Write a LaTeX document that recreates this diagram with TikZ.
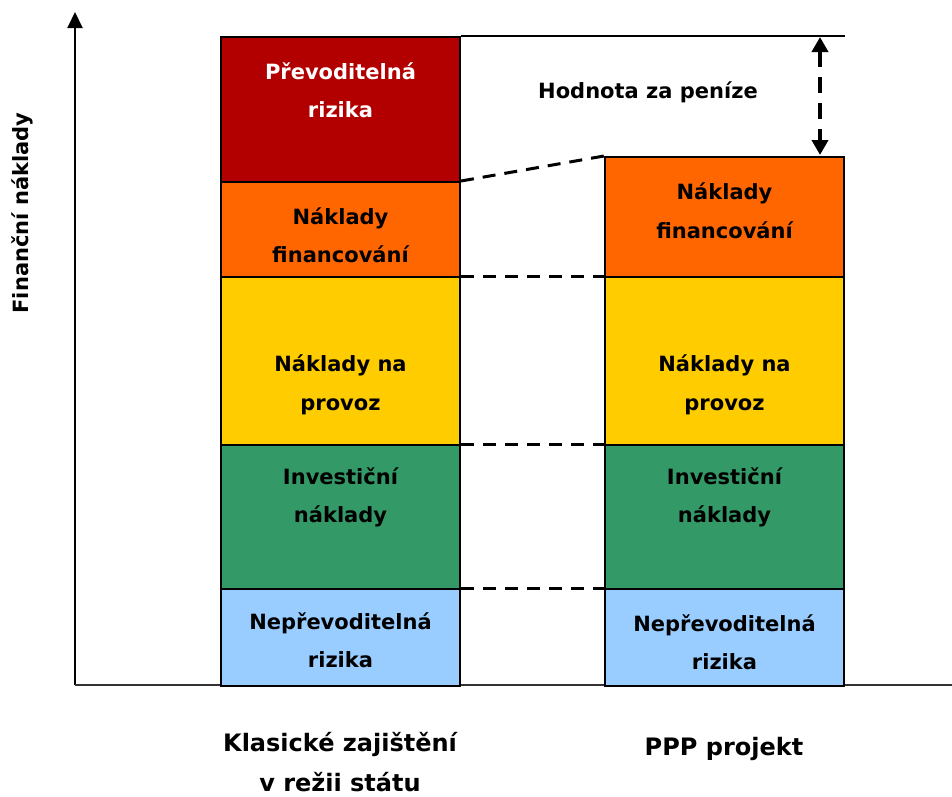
\documentclass[tikz,border=0pt]{standalone}
\usepackage{fontspec}
\setmainfont{DejaVu Sans}
\usepackage{xcolor}
\definecolor{risk-red}{HTML}{B20000}
\definecolor{fin-orange}{HTML}{FF6600}
\definecolor{op-yellow}{HTML}{FFCC00}
\definecolor{inv-green}{HTML}{339966}
\definecolor{rest-blue}{HTML}{99CCFF}
\usetikzlibrary{arrows.meta}

\begin{document}
\begin{tikzpicture}[x=1pt, y=-1pt,
    every node/.style={font=\fontsize{21}{38.5}\selectfont\bfseries, align=center},
    seg/.style={draw, line width=2pt, minimum width=239pt, anchor=north west, inner sep=0pt},
    caption/.style={font=\fontsize{24}{40}\selectfont\bfseries},
    link/.style={line width=3pt, dash pattern=on 13pt off 9pt}]
  \useasboundingbox (0,0) rectangle (952,796);
  % axes
  \draw[line width=2pt, -{Triangle[width=15pt,length=16pt]}] (75,685) -- (75,12);
  \draw[line width=2pt, black!80] (75,685) -- (952,685);
  \node[rotate=90] (ylabel) at (22,213) {Finanční náklady};
  % classic bar
  \node[seg, fill=risk-red, minimum height=145pt] (redL) at (220,36) {};
  \node[seg, fill=fin-orange, minimum height=95pt] (orangeL) at (220,181) {};
  \node[seg, fill=op-yellow, minimum height=168pt] (yellowL) at (220,276) {};
  \node[seg, fill=inv-green, minimum height=144pt] (greenL) at (220,444) {};
  \node[seg, fill=rest-blue, minimum height=97pt] (blueL) at (220,588) {};
  \node[text=white] (redLtxt) at ([yshift=19.5pt]redL.center) {Převoditelná\\rizika};
  \node (orangeLtxt) at ([yshift=-5.5pt]orangeL.center) {Náklady\\financování};
  \node (yellowLtxt) at ([yshift=-24pt]yellowL.center) {Náklady na\\provoz};
  \node (greenLtxt) at ([yshift=19.5pt]greenL.center) {Investiční\\náklady};
  \node (blueLtxt) at ([yshift=-2.5pt]blueL.center) {Nepřevoditelná\\rizika};
  % PPP bar
  \node[seg, fill=fin-orange, minimum height=120pt] (orangeR) at (604,156) {};
  \node[seg, fill=op-yellow, minimum height=168pt] (yellowR) at (604,276) {};
  \node[seg, fill=inv-green, minimum height=144pt] (greenR) at (604,444) {};
  \node[seg, fill=rest-blue, minimum height=97pt] (blueR) at (604,588) {};
  \node (orangeRtxt) at ([yshift=6.5pt]orangeR.center) {Náklady\\financování};
  \node (yellowRtxt) at ([yshift=-24pt]yellowR.center) {Náklady na\\provoz};
  \node (greenRtxt) at ([yshift=19.5pt]greenR.center) {Investiční\\náklady};
  \node (blueRtxt) at ([yshift=-4.5pt]blueR.center) {Nepřevoditelná\\rizika};
  % links between bars
  \draw[link] (orangeL.north east) -- (orangeR.north west);
  \draw[link] (yellowL.north east) -- (yellowR.north west);
  \draw[link] (greenL.north east) -- (greenR.north west);
  \draw[link] (blueL.north east) -- (blueR.north west);
  % value for money
  \draw[line width=2pt] (redL.north east) -- (redL.north east -| orangeR.east);
  \coordinate (vtop) at (820,37);
  \coordinate (vbot) at (820,155);
  \draw[line width=3.8pt, dash pattern=on 16pt off 10pt,
        {Triangle[width=16pt,length=15pt]}-{Triangle[width=16pt,length=15pt]}] (vtop) -- (vbot);
  \node (value) at (648,92) {Hodnota za peníze};
  % bar captions
  \node[caption] (capL) at (340,762) {Klasické zajištění\\v režii státu};
  \node[caption] (capR) at (724,749) {PPP projekt};
\end{tikzpicture}
\end{document}
